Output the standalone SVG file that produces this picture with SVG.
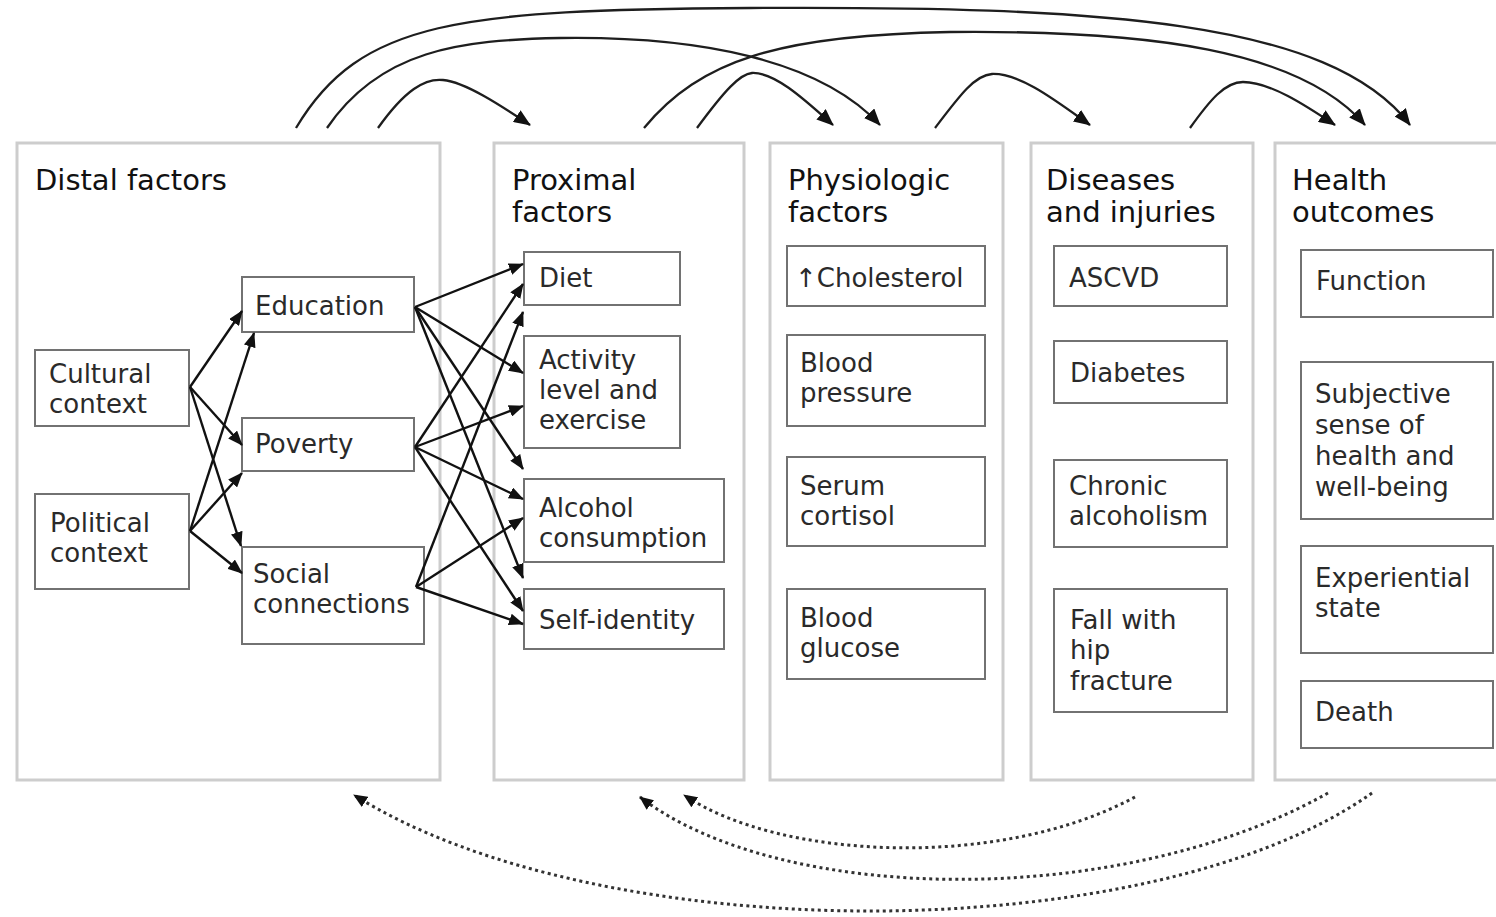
<svg xmlns="http://www.w3.org/2000/svg" width="1496" height="917" viewBox="0 0 1496 917">
<style>
.panel{fill:#fff;stroke:#cdcdcd;stroke-width:3}
.box{fill:#fff;stroke:#727272;stroke-width:2}
.title{font-family:"DejaVu Sans","Liberation Sans",sans-serif;font-size:29px;fill:#111}
.lbl{font-family:"DejaVu Sans","Liberation Sans",sans-serif;font-size:26px;fill:#2a2a2a}
.arc{fill:none;stroke:#1e1e1e;stroke-width:2.3;marker-end:url(#ah)}
.ln{fill:none;stroke:#111;stroke-width:2.4;marker-end:url(#ah2)}
.dash{fill:none;stroke:#333;stroke-width:3;stroke-dasharray:3 3.5;marker-end:url(#dh)}
</style>
<defs>
<marker id="ah" markerUnits="userSpaceOnUse" viewBox="0 0 17 14" markerWidth="17" markerHeight="14" refX="16" refY="7" orient="auto"><path d="M0,0 L17,7 L0,14 z" fill="#111"/></marker>
<marker id="ah2" markerUnits="userSpaceOnUse" viewBox="0 0 15 12" markerWidth="15" markerHeight="12" refX="14" refY="6" orient="auto"><path d="M0,0 L15,6 L0,12 z" fill="#111"/></marker>
<marker id="dh" markerUnits="userSpaceOnUse" viewBox="0 0 14 12" markerWidth="14" markerHeight="12" refX="13" refY="6" orient="auto"><path d="M0,0 L14,6 L0,12 z" fill="#111"/></marker>
</defs>
<rect width="1496" height="917" fill="#fff"/>

<g id="panel-distal">
<rect class="panel" x="17" y="143" width="423" height="637"/>
<text class="title" x="35" y="190">Distal factors</text>
</g>
<g id="panel-proximal">
<rect class="panel" x="494" y="143" width="250" height="637"/>
<text class="title" x="512" y="190">Proximal<tspan x="512" dy="32">factors</tspan></text>
</g>
<g id="panel-physiologic">
<rect class="panel" x="770" y="143" width="233" height="637"/>
<text class="title" x="788" y="190">Physiologic<tspan x="788" dy="32">factors</tspan></text>
</g>
<g id="panel-diseases">
<rect class="panel" x="1031" y="143" width="222" height="637"/>
<text class="title" x="1046" y="190">Diseases<tspan x="1046" dy="32">and injuries</tspan></text>
</g>
<g id="panel-health">
<rect class="panel" x="1275" y="143" width="240" height="637"/>
<text class="title" x="1292" y="190">Health<tspan x="1292" dy="32">outcomes</tspan></text>
</g>

<g id="cultural-context"><rect class="box" x="35" y="350" width="154" height="76"/><text class="lbl" x="49" y="383">Cultural<tspan x="49" dy="30">context</tspan></text></g>
<g id="political-context"><rect class="box" x="35" y="494" width="154" height="95"/><text class="lbl" x="50" y="532">Political<tspan x="50" dy="30">context</tspan></text></g>
<g id="education"><rect class="box" x="242" y="277" width="172" height="55"/><text class="lbl" x="255" y="315">Education</text></g>
<g id="poverty"><rect class="box" x="242" y="418" width="172" height="53"/><text class="lbl" x="255" y="453">Poverty</text></g>
<g id="social-connections"><rect class="box" x="242" y="547" width="182" height="97"/><text class="lbl" x="253" y="583">Social<tspan x="253" dy="30">connections</tspan></text></g>

<g id="diet"><rect class="box" x="524" y="252" width="156" height="53"/><text class="lbl" x="539" y="287">Diet</text></g>
<g id="activity"><rect class="box" x="524" y="336" width="156" height="112"/><text class="lbl" x="539" y="369">Activity<tspan x="539" dy="30">level and</tspan><tspan x="539" dy="30">exercise</tspan></text></g>
<g id="alcohol-consumption"><rect class="box" x="524" y="479" width="200" height="83"/><text class="lbl" x="539" y="517">Alcohol<tspan x="539" dy="30">consumption</tspan></text></g>
<g id="self-identity"><rect class="box" x="524" y="589" width="200" height="60"/><text class="lbl" x="539" y="629">Self-identity</text></g>

<g id="cholesterol"><rect class="box" x="787" y="246" width="198" height="60"/><text class="lbl" x="795" y="287">↑Cholesterol</text></g>
<g id="blood-pressure"><rect class="box" x="787" y="335" width="198" height="91"/><text class="lbl" x="800" y="372">Blood<tspan x="800" dy="30">pressure</tspan></text></g>
<g id="serum-cortisol"><rect class="box" x="787" y="457" width="198" height="89"/><text class="lbl" x="800" y="495">Serum<tspan x="800" dy="30">cortisol</tspan></text></g>
<g id="blood-glucose"><rect class="box" x="787" y="589" width="198" height="90"/><text class="lbl" x="800" y="627">Blood<tspan x="800" dy="30">glucose</tspan></text></g>

<g id="ascvd"><rect class="box" x="1054" y="246" width="173" height="60"/><text class="lbl" x="1069" y="287">ASCVD</text></g>
<g id="diabetes"><rect class="box" x="1054" y="341" width="173" height="62"/><text class="lbl" x="1070" y="382">Diabetes</text></g>
<g id="chronic-alcoholism"><rect class="box" x="1054" y="460" width="173" height="87"/><text class="lbl" x="1069" y="495">Chronic<tspan x="1069" dy="30">alcoholism</tspan></text></g>
<g id="fall-hip-fracture"><rect class="box" x="1054" y="589" width="173" height="123"/><text class="lbl" x="1070" y="629">Fall with<tspan x="1070" dy="30">hip</tspan><tspan x="1070" dy="31">fracture</tspan></text></g>

<g id="function"><rect class="box" x="1301" y="250" width="192" height="67"/><text class="lbl" x="1316" y="290">Function</text></g>
<g id="subjective"><rect class="box" x="1301" y="362" width="192" height="157"/><text class="lbl" x="1315" y="403">Subjective<tspan x="1315" dy="31">sense of</tspan><tspan x="1315" dy="31">health and</tspan><tspan x="1315" dy="31">well-being</tspan></text></g>
<g id="experiential-state"><rect class="box" x="1301" y="546" width="192" height="107"/><text class="lbl" x="1315" y="587">Experiential<tspan x="1315" dy="30">state</tspan></text></g>
<g id="death"><rect class="box" x="1301" y="681" width="192" height="67"/><text class="lbl" x="1315" y="721">Death</text></g>

<g id="connectors">
<path class="arc" d="M296,128 C360,20 460,10 750,8 C1100,6 1330,20 1410,125"/>
<path class="arc" d="M327,128 C380,50 460,40 560,38 C700,36 820,60 880,125"/>
<path class="arc" d="M378,128 C405,90 425,78 443,80 C465,82 500,105 530,125"/>
<path class="arc" d="M644,128 C700,60 780,35 950,32 C1150,30 1300,50 1365,125"/>
<path class="arc" d="M697,128 C725,90 740,74 752,73 C775,72 805,100 833,125"/>
<path class="arc" d="M935,128 C960,95 975,75 992,74 C1020,73 1055,100 1090,125"/>
<path class="arc" d="M1190,128 C1210,100 1225,82 1243,82 C1270,82 1305,105 1335,125"/>

<path class="ln" d="M190,387 L242,311"/>
<path class="ln" d="M190,387 L242,445"/>
<path class="ln" d="M190,387 L241,546"/>
<path class="ln" d="M190,531 L254,333"/>
<path class="ln" d="M190,531 L242,473"/>
<path class="ln" d="M190,531 L242,573"/>

<path class="ln" d="M415,307 L523,264"/>
<path class="ln" d="M415,307 L523,373"/>
<path class="ln" d="M415,307 L523,469"/>
<path class="ln" d="M415,307 L523,578"/>
<path class="ln" d="M415,447 L523,284"/>
<path class="ln" d="M415,447 L523,406"/>
<path class="ln" d="M415,447 L523,499"/>
<path class="ln" d="M415,447 L523,611"/>
<path class="ln" d="M416,587 L523,312"/>
<path class="ln" d="M416,587 L523,518"/>
<path class="ln" d="M416,587 L523,624"/>

<path class="dash" d="M1135,797 C1000,870 780,860 684,795"/>
<path class="dash" d="M1328,793 C1120,910 780,905 640,797"/>
<path class="dash" d="M1372,793 C1150,950 600,950 354,795"/>
</g>
</svg>
